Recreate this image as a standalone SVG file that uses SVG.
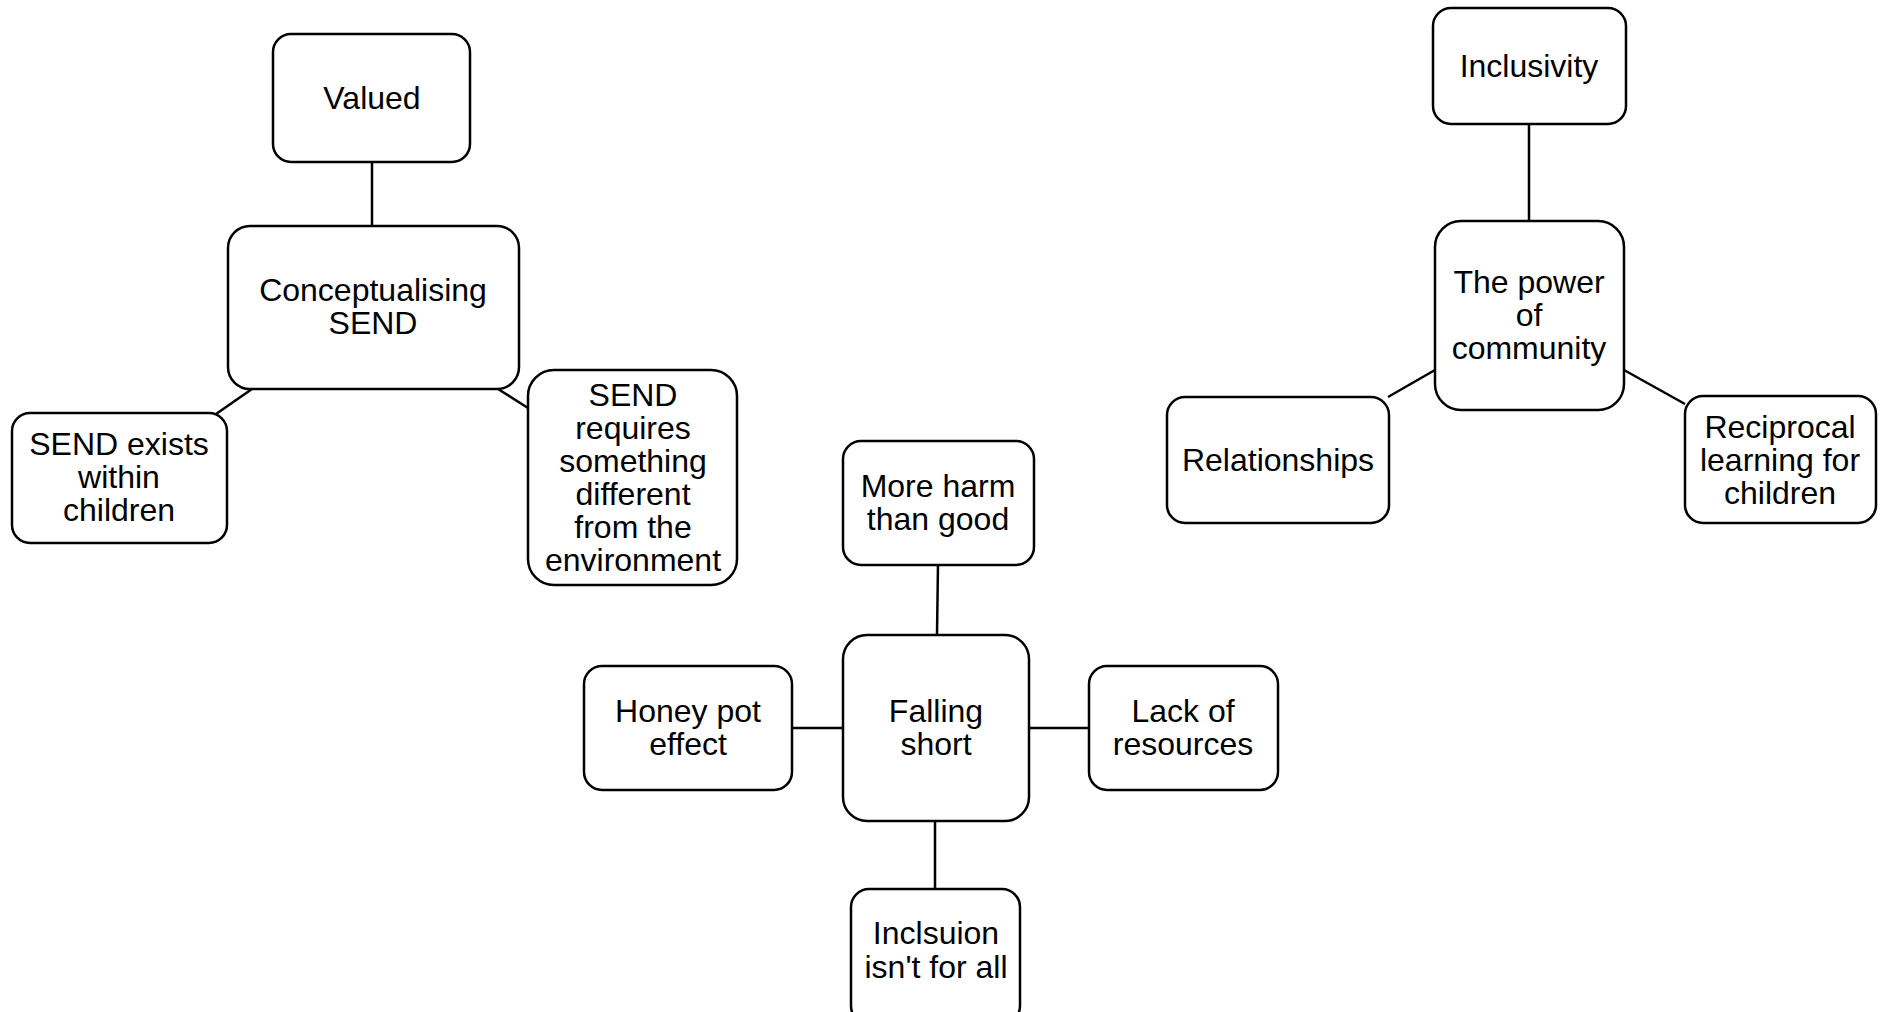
<svg xmlns="http://www.w3.org/2000/svg" width="1883" height="1012" viewBox="0 0 1883 1012">
  <style>
    .box { fill: #ffffff; stroke: #000000; stroke-width: 2.5; }
    .lbl { font-family: "Liberation Sans", Arial, sans-serif; font-size: 32px; fill: #000000; text-anchor: middle; }
    .edge { stroke: #000000; stroke-width: 2.5; fill: none; }
  </style>
  <rect width="1883" height="1012" fill="#ffffff"/>

  <g id="connectors">
    <line class="edge" x1="372" y1="162" x2="372" y2="226"/>
    <line class="edge" x1="252" y1="389" x2="216" y2="414"/>
    <line class="edge" x1="498" y1="389" x2="528" y2="408"/>
    <line class="edge" x1="938" y1="564" x2="937" y2="635"/>
    <line class="edge" x1="843" y1="728" x2="791" y2="728"/>
    <line class="edge" x1="1029" y1="728" x2="1089" y2="728"/>
    <line class="edge" x1="935" y1="821" x2="935" y2="889"/>
    <line class="edge" x1="1529" y1="124" x2="1529" y2="221"/>
    <line class="edge" x1="1435" y1="370" x2="1388" y2="397"/>
    <line class="edge" x1="1624" y1="370" x2="1685" y2="404"/>
  </g>

  <g id="valued">
    <rect class="box" x="273" y="34" width="197" height="128" rx="18"/>
    <text class="lbl" x="372" y="109">Valued</text>
  </g>

  <g id="conceptualising-send">
    <rect class="box" x="228" y="226" width="291" height="163" rx="22"/>
    <text class="lbl" x="373" y="301">Conceptualising</text>
    <text class="lbl" x="373" y="334">SEND</text>
  </g>

  <g id="send-exists">
    <rect class="box" x="12" y="413" width="215" height="130" rx="18"/>
    <text class="lbl" x="119" y="455">SEND exists</text>
    <text class="lbl" x="119" y="488">within</text>
    <text class="lbl" x="119" y="521">children</text>
  </g>

  <g id="send-requires">
    <rect class="box" x="528" y="370" width="209" height="215" rx="26"/>
    <text class="lbl" x="633" y="406">SEND</text>
    <text class="lbl" x="633" y="439">requires</text>
    <text class="lbl" x="633" y="472">something</text>
    <text class="lbl" x="633" y="505">different</text>
    <text class="lbl" x="633" y="538">from the</text>
    <text class="lbl" x="633" y="571">environment</text>
  </g>

  <g id="more-harm">
    <rect class="box" x="843" y="441" width="191" height="124" rx="18"/>
    <text class="lbl" x="938" y="497">More harm</text>
    <text class="lbl" x="938" y="530">than good</text>
  </g>

  <g id="falling-short">
    <rect class="box" x="843" y="635" width="186" height="186" rx="24"/>
    <text class="lbl" x="936" y="722">Falling</text>
    <text class="lbl" x="936" y="755">short</text>
  </g>

  <g id="honey-pot">
    <rect class="box" x="584" y="666" width="208" height="124" rx="18"/>
    <text class="lbl" x="688" y="722">Honey pot</text>
    <text class="lbl" x="688" y="755">effect</text>
  </g>

  <g id="lack-of-resources">
    <rect class="box" x="1089" y="666" width="189" height="124" rx="18"/>
    <text class="lbl" x="1183" y="722">Lack of</text>
    <text class="lbl" x="1183" y="755">resources</text>
  </g>

  <g id="inclusion-not-for-all">
    <rect class="box" x="851" y="889" width="169" height="135" rx="18"/>
    <text class="lbl" x="936" y="944">Inclsuion</text>
    <text class="lbl" x="936" y="978">isn't for all</text>
  </g>

  <g id="inclusivity">
    <rect class="box" x="1433" y="8" width="193" height="116" rx="18"/>
    <text class="lbl" x="1529" y="77">Inclusivity</text>
  </g>

  <g id="power-of-community">
    <rect class="box" x="1435" y="221" width="189" height="189" rx="26"/>
    <text class="lbl" x="1529" y="293">The power</text>
    <text class="lbl" x="1529" y="326">of</text>
    <text class="lbl" x="1529" y="359">community</text>
  </g>

  <g id="relationships">
    <rect class="box" x="1167" y="397" width="222" height="126" rx="18"/>
    <text class="lbl" x="1278" y="471">Relationships</text>
  </g>

  <g id="reciprocal-learning">
    <rect class="box" x="1685" y="396" width="191" height="127" rx="18"/>
    <text class="lbl" x="1780" y="438">Reciprocal</text>
    <text class="lbl" x="1780" y="471">learning for</text>
    <text class="lbl" x="1780" y="504">children</text>
  </g>
</svg>
